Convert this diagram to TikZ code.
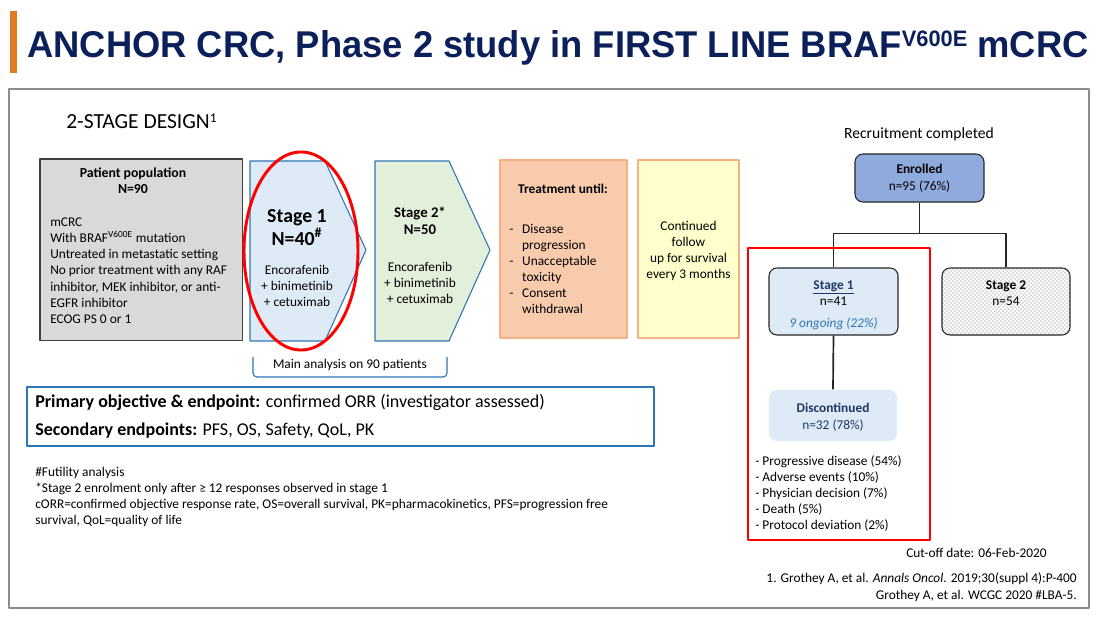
\documentclass[tikz,border=0pt]{standalone}
\usepackage{fontspec}
\setmainfont{Carlito}
\newfontfamily\titlefont{Liberation Sans}
\usepackage{graphicx}
\usetikzlibrary{positioning, patterns}
\definecolor{titleNavy}{HTML}{0B1F5B}
\definecolor{barOrange}{HTML}{E07B22}
\definecolor{frameGray}{HTML}{8C8C8C}
\definecolor{popGray}{HTML}{D9D9D9}
\definecolor{lineBlue}{HTML}{2E75B6}
\definecolor{paleBlue}{HTML}{DEEBF7}
\definecolor{paleGreen}{HTML}{E2EFDA}
\definecolor{peach}{HTML}{F8CBAD}
\definecolor{peachLine}{HTML}{F4B183}
\definecolor{paleYellow}{HTML}{FFFFCC}
\definecolor{enrollBlue}{HTML}{8FAADC}
\definecolor{darkNavy}{HTML}{1F3864}
\definecolor{markRed}{HTML}{FF0000}
\newcommand{\fs}[2]{\fontsize{#1}{#2}\selectfont}
% fine grey checks for the stage 2 box
\pgfdeclarepatternformonly{fineChecker}{\pgfqpoint{0pt}{0pt}}{\pgfqpoint{2.84pt}{2.84pt}}{\pgfqpoint{2.84pt}{2.84pt}}{%
    \pgfpathrectangle{\pgfqpoint{0pt}{0pt}}{\pgfqpoint{1.42pt}{1.42pt}}%
    \pgfpathrectangle{\pgfqpoint{1.42pt}{1.42pt}}{\pgfqpoint{1.42pt}{1.42pt}}%
    \pgfusepath{fill}}

\begin{document}
\begin{tikzpicture}[x=0.025cm, y=-0.025cm, line join=round,
    txt/.style={inner sep=0pt, font=\fs{9.5}{11.5}},
    bold/.style={txt, font=\bfseries\fs{9.5}{11.5}},
    plainbox/.style={inner sep=0pt, line width=0.75pt},
    treebox/.style={plainbox, draw=black!85, rounded corners=0.2cm},
    treeline/.style={line width=1.2pt, black!85},
    stageline/.style={draw=lineBlue, line width=0.75pt}]
    % page and heading
    \useasboundingbox[fill=white] (0,0) rectangle (1100,619);
    \fill[barOrange] (10,11) rectangle (17,73);
    \node[anchor=base west, inner sep=0pt, text=titleNavy] (title) at (27,57)
        {\resizebox{754.7pt}{19.2pt}{\titlefont\bfseries\fs{20}{24}ANCHOR CRC, Phase 2 study in FIRST LINE BRAF\raisebox{5.7pt}{\fs{12}{14}V600E} mCRC}};
    \draw[frameGray, line width=1pt] (9,89) rectangle (1089,608);

    \node[txt, anchor=base west, font=\fs{15.3}{18}] (design) at (66,128) {2-STAGE DESIGN\raisebox{4.2pt}{\fs{9.5}{11}1}};

    % patient population
    \node[plainbox, draw=black!75, fill=popGray, minimum width=5.05cm, minimum height=4.525cm] (pop) at (141,249.5) {};
    \node[bold, anchor=base, font=\bfseries\fs{9.8}{11.5}] (popTitle) at (133,177) {Patient population};
    \node[bold, anchor=base, font=\bfseries\fs{9.8}{11.5}] (popN) at (133,193) {N=90};
    \node[txt, anchor=base west] (popList) at (50,226) {\begin{tabular}[t]{@{}l@{}}
        mCRC\\ With BRAF\textsuperscript{V600E} mutation\\ Untreated in metastatic setting\\
        No prior treatment with any RAF\\ inhibitor, MEK inhibitor, or anti-\\ EGFR inhibitor\\ ECOG PS 0 or 1
        \end{tabular}};

    % stage 1 and stage 2 arrows
    \draw[stageline, fill=paleBlue] (250,161) -- (325,161) -- (366,250) -- (325,341) -- (250,341) -- cycle;
    \draw[stageline, fill=paleGreen] (375,161) -- (449,161) -- (490,250) -- (449,341) -- (375,341) -- cycle;
    \node[txt, anchor=base, font=\bfseries\fs{14.1}{16}] (s1Name) at (297,222) {Stage 1};
    \node[txt, anchor=base, font=\bfseries\fs{14.1}{16}] (s1N) at (297,245) {N=40\textsuperscript{\#}};
    \node[txt, anchor=base] (s1Drug) at (297,274) {\begin{tabular}[t]{@{}c@{}}Encorafenib\\ + binimetinib\\ + cetuximab\end{tabular}};
    \node[txt, anchor=base, font=\bfseries\fs{10.5}{12}] (s2Name) at (420,217) {Stage 2*};
    \node[txt, anchor=base, font=\bfseries\fs{10.5}{12}] (s2N) at (420,234) {N=50};
    \node[txt, anchor=base] (s2Drug) at (420,271) {\begin{tabular}[t]{@{}c@{}}Encorafenib\\ + binimetinib\\ + cetuximab\end{tabular}};
    \draw[markRed, line width=2.1pt] (301,251) ellipse [x radius=1.425cm, y radius=2.475cm];

    % bracket under both stages
    \draw[lineBlue, line width=0.8pt, rounded corners=0.1cm] (253,357) -- (253,377) -- (447,377) -- (447,357);
    \node[txt, anchor=base] (mainAna) at (350,368) {Main analysis on 90 patients};

    % treatment and follow up
    \node[plainbox, draw=peachLine, fill=peach, minimum width=3.175cm, minimum height=4.45cm] (treat) at (563.5,249) {};
    \node[bold, anchor=base] (treatHd) at (563,193) {Treatment until:};
    \node[txt, anchor=base west] (treatList) at (509,233) {\begin{tabular}[t]{@{}p{9.2pt}@{}l@{}}
        - & Disease\\ & progression\\ - & Unacceptable\\ & toxicity\\ - & Consent\\ & withdrawal
        \end{tabular}};
    \node[plainbox, draw=peachLine, fill=paleYellow, minimum width=2.525cm, minimum height=4.45cm] (follow) at (688.5,249) {};
    \node[txt, anchor=base] (followTxt) at (688.5,230) {\begin{tabular}[t]{@{}c@{}}Continued\\ follow\\ up for survival\\ every 3 months\end{tabular}};

    % endpoints
    \node[plainbox, draw=lineBlue, line width=1pt, fill=white, minimum width=15.675cm, minimum height=1.475cm] (obj) at (340.5,416.5) {};
    \node[txt, anchor=base west, font=\fs{12.8}{15}] (primary) at (35,407) {\textbf{Primary objective \& endpoint:} confirmed ORR (investigator assessed)};
    \node[txt, anchor=base west, font=\fs{12.8}{15}] (secondary) at (35,435) {\textbf{Secondary endpoints:} PFS, OS, Safety, QoL, PK};

    % footnotes
    \node[txt, anchor=base west] (notes) at (35,476) {\begin{tabular}[t]{@{}l@{}}
        \#Futility analysis\\ {*}Stage 2 enrolment only after ≥ 12 responses observed in stage 1\\
        cORR=confirmed objective response rate, OS=overall survival, PK=pharmacokinetics, PFS=progression free\\
        survival, QoL=quality of life
        \end{tabular}};

    % recruitment tree
    \node[txt, anchor=base, font=\fs{11.1}{13}] (recruit) at (919,138) {Recruitment completed};
    \node[treebox, fill=enrollBlue, minimum width=3.225cm, minimum height=1.2cm] (enrolled) at (919.5,178) {};
    \node[bold, anchor=base] (enrName) at (919.5,173) {Enrolled};
    \node[txt, anchor=base] (enrN) at (919.5,190) {n=95 (76\%)};

    \node[treebox, fill=paleBlue, minimum width=3.225cm, minimum height=1.675cm] (s1Box) at (833.5,301.5) {};
    \node[bold, anchor=base, text=darkNavy] (s1BoxName) at (833.5,289) {\underline{Stage 1}};
    \node[txt, anchor=base] (s1BoxN) at (833.5,305) {n=41};
    \node[txt, anchor=base, font=\itshape\fs{9.5}{11.5}, text=lineBlue] (s1Ongoing) at (833.5,327) {9 ongoing (22\%)};

    \node[treebox, preaction={fill=white}, pattern=fineChecker, pattern color=black!13, minimum width=3.2cm, minimum height=1.675cm] (s2Box) at (1006,301.5) {};
    \node[bold, anchor=base] (s2BoxName) at (1006,289) {Stage 2};
    \node[txt, anchor=base] (s2BoxN) at (1006,305) {n=54};

    \node[plainbox, fill=paleBlue, rounded corners=0.2cm, minimum width=3.2cm, minimum height=1.275cm] (disc) at (833,415.5) {};
    \node[bold, anchor=base, text=darkNavy] (discName) at (833,412) {Discontinued};
    \node[txt, anchor=base, text=darkNavy] (discN) at (833,429) {n=32 (78\%)};

    \draw[treeline] (enrolled.south) -- ++(0,31) -| (s1Box.north);
    \draw[treeline] (enrolled.south) -- ++(0,31) -| (s2Box.north);
    \draw[treeline] (s1Box.south) -- (disc.north);

    \node[txt, anchor=base west] (reasons) at (755,465) {\begin{tabular}[t]{@{}l@{}}
        - Progressive disease (54\%)\\ - Adverse events (10\%)\\ - Physician decision (7\%)\\
        - Death (5\%)\\ - Protocol deviation (2\%)
        \end{tabular}};
    \draw[markRed, line width=2.1pt] (748,248) rectangle (930,540);

    % cut-off and references
    \node[txt, anchor=base east] (cutoff) at (1047,557) {Cut-off date: 06-Feb-2020};
    \node[txt, anchor=base east] (ref1) at (1077,582) {1. Grothey A, et al. \textit{Annals Oncol}. 2019;30(suppl 4):P-400};
    \node[txt, anchor=base east] (ref2) at (1077,599) {Grothey A, et al. WCGC 2020 \#LBA-5.};
\end{tikzpicture}
\end{document}
